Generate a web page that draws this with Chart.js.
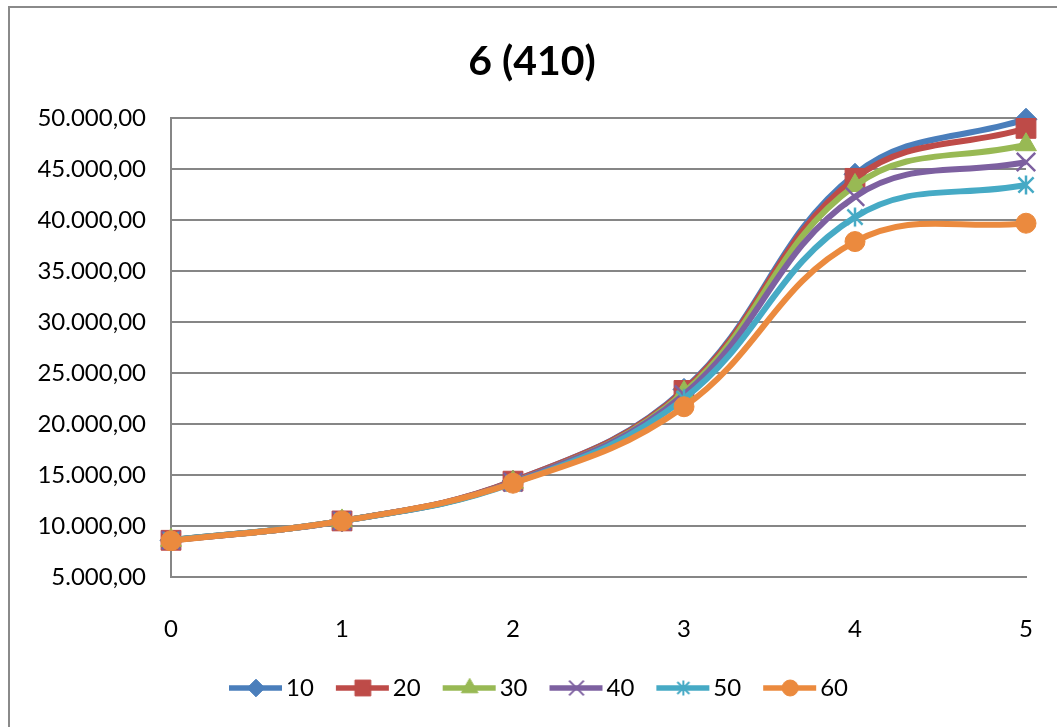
<!DOCTYPE html>
<html>
<head>
<meta charset="utf-8">
<script src="https://cdn.jsdelivr.net/npm/chart.js@4.4.1/dist/chart.umd.min.js"></script>
<style>
  html, body { margin: 0; padding: 0; background: #fff; overflow: hidden; }
  #wrap { width: 1057px; height: 727px; }
</style>
</head>
<body>
<div id="wrap"><canvas id="chart" width="1057" height="727"></canvas></div>
<script>
// x categories and one value list per series
const xLabels = ['0', '1', '2', '3', '4', '5'];
const seriesNames = ['10', '20', '30', '40', '50', '60'];
const s10 = [8600, 10500, 14400, 23400, 44500, 49900];
const s20 = [8600, 10500, 14400, 23300, 44100, 49000];
const s30 = [8600, 10500, 14300, 23100, 43400, 47400];
const s40 = [8600, 10500, 14300, 22900, 42300, 45700];
const s50 = [8600, 10500, 14200, 22500, 40300, 43450];
const s60 = [8550, 10500, 14200, 21700, 37900, 39700];
const yTicks = [5000, 10000, 15000, 20000, 25000, 30000, 35000, 40000, 45000, 50000];

const colors = ['#4A7EBB', '#BE4B48', '#98B954', '#7D60A0', '#46AAC5', '#EB8A3E'];
const FONT = 'Lato';
const GRID = '#868686';

// 50000 -> "50.000,00"
function fmtNum(v) {
  const s = Math.round(v).toString().replace(/\B(?=(\d{3})+(?!\d))/g, '.');
  return s + ',00';
}

// six-armed asterisk marker (vertical bar plus an X)
function asterisk(color, size, lw) {
  const c = document.createElement('canvas');
  c.width = size; c.height = size;
  const g = c.getContext('2d');
  const m = size / 2, r = size / 2 - 1.5;
  g.strokeStyle = color;
  g.lineWidth = lw;
  g.beginPath();
  g.moveTo(m, m - r); g.lineTo(m, m + r);
  g.moveTo(m - r * 0.8, m - r * 0.8); g.lineTo(m + r * 0.8, m + r * 0.8);
  g.moveTo(m + r * 0.8, m - r * 0.8); g.lineTo(m - r * 0.8, m + r * 0.8);
  g.stroke();
  return c;
}

const markers = [
  { style: 'rectRot', r: 11 },
  { style: 'rect', r: 14 },
  { style: 'triangle', r: 12 },
  { style: 'crossRot', r: 13 },
  { style: asterisk(colors[4], 22, 2.5), r: 11 },
  { style: 'circle', r: 10 }
];

// legend swatch: short line with the marker in its middle
function legendIcon(i) {
  const c = document.createElement('canvas');
  c.width = 78; c.height = 26;
  const g = c.getContext('2d');
  g.strokeStyle = colors[i];
  g.fillStyle = colors[i];
  g.lineWidth = 5.5;
  g.beginPath();
  g.moveTo(23, 13); g.lineTo(76, 13);
  g.stroke();
  if (i === 4) {
    g.drawImage(asterisk(colors[4], 18, 2), 41, 4);
  } else {
    g.lineWidth = i === 3 ? 2 : 1;
    Chart.helpers.drawPoint(g, { pointStyle: markers[i].style, radius: markers[i].r * 0.8, borderWidth: g.lineWidth, rotation: 0 }, 50, 13);
  }
  return c;
}
const legendIcons = seriesNames.map((_, i) => legendIcon(i));

const seriesData = [s10, s20, s30, s40, s50, s60];

const datasets = seriesNames.map((name, i) => ({
  label: name,
  data: seriesData[i],
  borderColor: colors[i],
  backgroundColor: colors[i],
  pointBackgroundColor: colors[i],
  pointBorderColor: colors[i],
  borderWidth: 6,
  tension: 0.4,
  pointStyle: markers[i].style,
  pointRadius: markers[i].r,
  pointBorderWidth: i === 3 ? 2.5 : 1,
  order: seriesNames.length - i,
  clip: false
}));

// white page with the grey frame round the chart
const framePlugin = {
  id: 'frame',
  beforeDraw(chart) {
    const ctx = chart.ctx;
    ctx.save();
    ctx.fillStyle = '#fff';
    ctx.fillRect(0, 0, chart.width, chart.height);
    ctx.strokeStyle = '#8a8a8a';
    ctx.lineWidth = 2;
    ctx.strokeRect(9, 7, chart.width + 20, chart.height + 20);
    ctx.restore();
  }
};

new Chart(document.getElementById('chart'), {
  type: 'line',
  data: { labels: xLabels, datasets: datasets },
  plugins: [framePlugin],
  options: {
    responsive: false,
    animation: false,
    events: [],
    layout: { padding: { top: 0, left: 38, right: 31, bottom: 17 } },
    plugins: {
      title: {
        display: true,
        text: '6 (410)',
        color: '#000',
        font: { family: FONT, size: 41, weight: 'bold' },
        padding: { top: 37, bottom: 32 }
      },
      legend: {
        position: 'bottom',
        labels: {
          usePointStyle: true,
          pointStyleWidth: 58,
          padding: 9,
          color: '#000',
          font: { family: FONT, size: 24 },
          generateLabels(chart) {
            const items = Chart.defaults.plugins.legend.labels.generateLabels(chart);
            items.forEach(it => { it.pointStyle = legendIcons[it.datasetIndex]; });
            return items;
          },
          sort: (a, b) => a.datasetIndex - b.datasetIndex
        }
      },
      tooltip: { enabled: false }
    },
    scales: {
      x: {
        type: 'category',
        offset: false,
        grid: { display: false },
        border: { color: GRID, width: 2 },
        ticks: { color: '#000', font: { family: FONT, size: 24 }, padding: 30, maxRotation: 0 },
        afterFit(s) { s.height = 90; s.paddingLeft = 0; s.paddingRight = 0; }
      },
      y: {
        min: 5000,
        max: 50000,
        afterBuildTicks(s) { s.ticks = yTicks.map(v => ({ value: v })); },
        grid: { color: GRID, lineWidth: 2, drawTicks: false },
        border: { color: GRID, width: 2 },
        ticks: { color: '#000', font: { family: FONT, size: 24 }, padding: 25, callback: v => fmtNum(v) },
        afterFit(s) { s.width = 133; }
      }
    }
  }
});
</script>
</body>
</html>
